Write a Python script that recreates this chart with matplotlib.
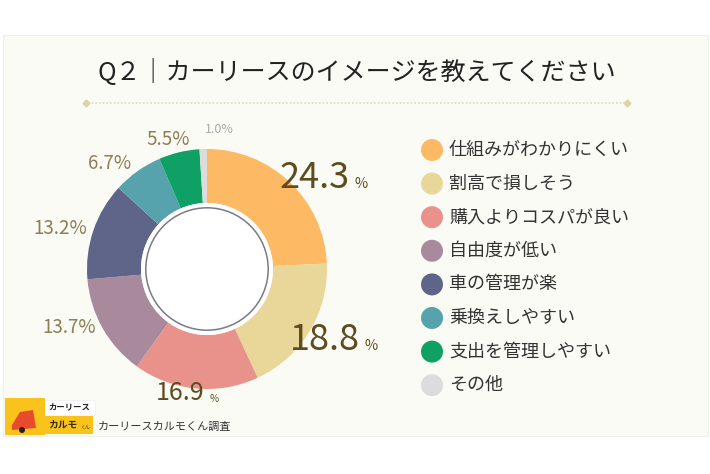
import numpy as np
import matplotlib.pyplot as plt
from matplotlib.patches import Rectangle, Circle, Polygon

plt.rcParams['font.family'] = ['Noto Sans CJK JP', 'DejaVu Sans']

# data
labels = ['仕組みがわかりにくい', '割高で損しそう', '購入よりコスパが良い', '自由度が低い',
          '車の管理が楽', '乗換えしやすい', '支出を管理しやすい', 'その他']
values = [24.3, 18.8, 16.9, 13.7, 13.2, 6.7, 5.5, 1.0]
colors = ['#fdb963', '#e9d79a', '#e9928c', '#a98a9c', '#5f6489',
          '#57a3ad', '#0ea064', '#dcdcdc']
# label anchor (axes data units), font size
label_pos = [(1.19, 0.76), (1.275, -0.59), (-0.02, -1.03), (-1.15, -0.49),
             (-1.225, 0.34), (-0.81, 0.88), (-0.32, 1.08), (0.10, 1.16)]
label_size = [26, 26, 18, 13.5, 13.5, 13.5, 13.5, 9]

W, H = 710, 474
fig = plt.figure(figsize=(W / 100, H / 100), dpi=100)
fig.patch.set_facecolor('white')

# panel background
bg = fig.add_axes([0, 0, 1, 1])
bg.set_xlim(0, W)
bg.set_ylim(H, 0)
bg.axis('off')
bg.add_patch(Rectangle((3, 35), 705, 401, facecolor='#fbfbf6', edgecolor='#f0f0e8', lw=0.8))

# title + dotted rule
bg.text(357, 72, 'Q２｜カーリースのイメージを教えてください', fontsize=18,
        ha='center', va='center', color='#222222')
bg.plot([88, 625], [103, 103], ls=(0, (1, 1.2)), color='#dedcb4', lw=1.2)
bg.plot([86, 627], [103, 103], ls='none', marker='D', ms=3.5, color='#d8d6a6')

# donut
cx, cy, r = 207, 269, 120
ax = fig.add_axes([(cx - r) / W, (H - cy - r) / H, 2 * r / W, 2 * r / H])
ax.pie(values, colors=colors, startangle=90, counterclock=False, radius=1,
       wedgeprops=dict(width=0.45, edgecolor='none'))
ax.set_xlim(-1, 1)
ax.set_ylim(-1, 1)
ax.set_aspect('equal')
ax.axis('off')
ax.add_patch(Circle((0, 0), 0.55, facecolor='white', edgecolor='none', zorder=3))
ax.add_patch(Circle((0, 0), 0.51, facecolor='white', edgecolor='#7a7a86', lw=1.1, zorder=4))

for i, v in enumerate(values):
    x, y = label_pos[i]
    s = label_size[i]
    if i < 3:
        col = '#5e4c1e'
        ax.text(x, y, f'{v:.1f}', fontsize=s, ha='right', va='center', color=col)
        ax.text(x + 0.04, y - 0.05, '%', fontsize=s * 0.4, ha='left', va='center', color=col)
    elif i == 7:
        ax.text(x, y, f'{v:.1f}%', fontsize=s, ha='center', va='center', color='#a8a8a8')
        ax.plot([-0.03, -0.03], [1.12, 1.0], color='#cccccc', lw=0.6)
    else:
        ax.text(x, y, f'{v:.1f}%', fontsize=s, ha='center', va='center', color='#8c7d55')

# legend
for i, (lab, c) in enumerate(zip(labels, colors)):
    y = 150 + i * 33.6
    bg.add_patch(Circle((432, y), 11, facecolor=c, edgecolor='none'))
    bg.text(449, y, lab, fontsize=13, ha='left', va='center', color='#333333')

# logo
bg.add_patch(Rectangle((5, 398), 40, 37, facecolor='#f9c31c', edgecolor='none'))
bg.add_patch(Polygon([[12, 425], [20, 412], [33, 410], [36, 428], [12, 430]],
                     facecolor='#e84a2d', edgecolor='none'))
bg.add_patch(Circle((22, 430), 3, facecolor='#222222'))
bg.add_patch(Rectangle((45, 400), 50, 15, facecolor='white', edgecolor='#eeeeee', lw=0.5))
bg.text(48, 407, 'カーリース', fontsize=6, fontweight='bold', va='center', color='#222222')
bg.add_patch(Rectangle((45, 416), 48, 18, facecolor='#f9c31c', edgecolor='none'))
bg.text(48, 425, 'カルモ', fontsize=7, fontweight='bold', va='center', color='#3a2a10')
bg.text(80, 427, 'くん', fontsize=3.5, va='center', color='#3a2a10')
bg.text(98, 427, 'カーリースカルモくん調査', fontsize=8, va='center', color='#333333')

fig.savefig('out.png', dpi=100, facecolor='white')
